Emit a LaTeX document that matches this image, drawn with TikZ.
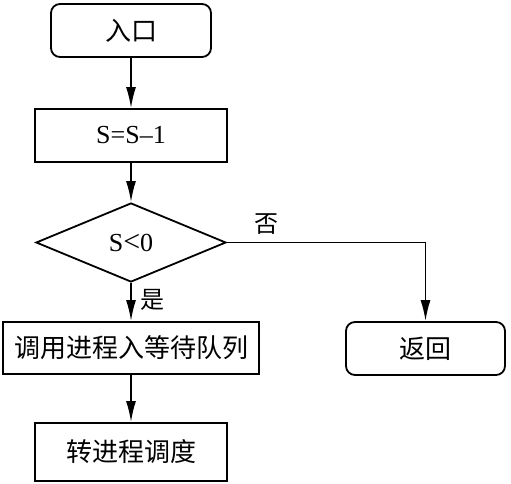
\documentclass[tikz,border=0pt]{standalone}
\usepackage{fontspec}
\setmainfont{Liberation Serif}
\newfontfamily\cjk{Noto Sans CJK SC}
\usetikzlibrary{shapes.geometric,arrows.meta}
\begin{document}
\begin{tikzpicture}[x=1pt,y=-1pt,
  every node/.style={font=\fontsize{26}{30}\selectfont, line width=1.8pt},
  roundbox/.style={draw, rounded corners=9pt, minimum width=160pt, minimum height=53pt, inner sep=0pt},
  plainbox/.style={draw, minimum width=192pt, minimum height=53pt, inner sep=0pt},
  decision/.style={draw, diamond, aspect=2.4, minimum width=190pt, minimum height=79pt, inner sep=0pt},
  flow/.style={line width=1.8pt, -{Latex[length=21pt,width=10pt]}},
  lbl/.style={font=\cjk\fontsize{24}{28}\selectfont}
]
\useasboundingbox (0,0) rectangle (511,484);
\node[roundbox] (entry) at (131,30.5) {\cjk 入口};
\node[plainbox] (dec) at (131,135.5) {S=S–1};
\node[decision] (test) at (131,242.5) {S{\fontsize{30}{30}\selectfont<}0};
\node[plainbox, minimum width=256pt, minimum height=52pt] (wait) at (131,348) {\cjk 调用进程入等待队列};
\node[plainbox, minimum height=58pt] (sched) at (131,452) {\cjk 转进程调度};
\node[roundbox, minimum width=159pt] (ret) at (425.5,348.5) {\cjk 返回};
\coordinate (corner) at (425.5,242.5);
\draw[flow] (entry) -- (dec);
\draw[flow] (dec) -- (test);
\draw[flow] (test) -- (wait) node[lbl, pos=0.45, right=5pt] (yes) {是};
\draw[flow] (wait) -- (sched);
\draw[line width=1.8pt] (test.east) -- (corner);
\draw[flow] (corner) -- (ret);
\node[lbl] (no) at (266,224) {否};
\end{tikzpicture}
\end{document}
